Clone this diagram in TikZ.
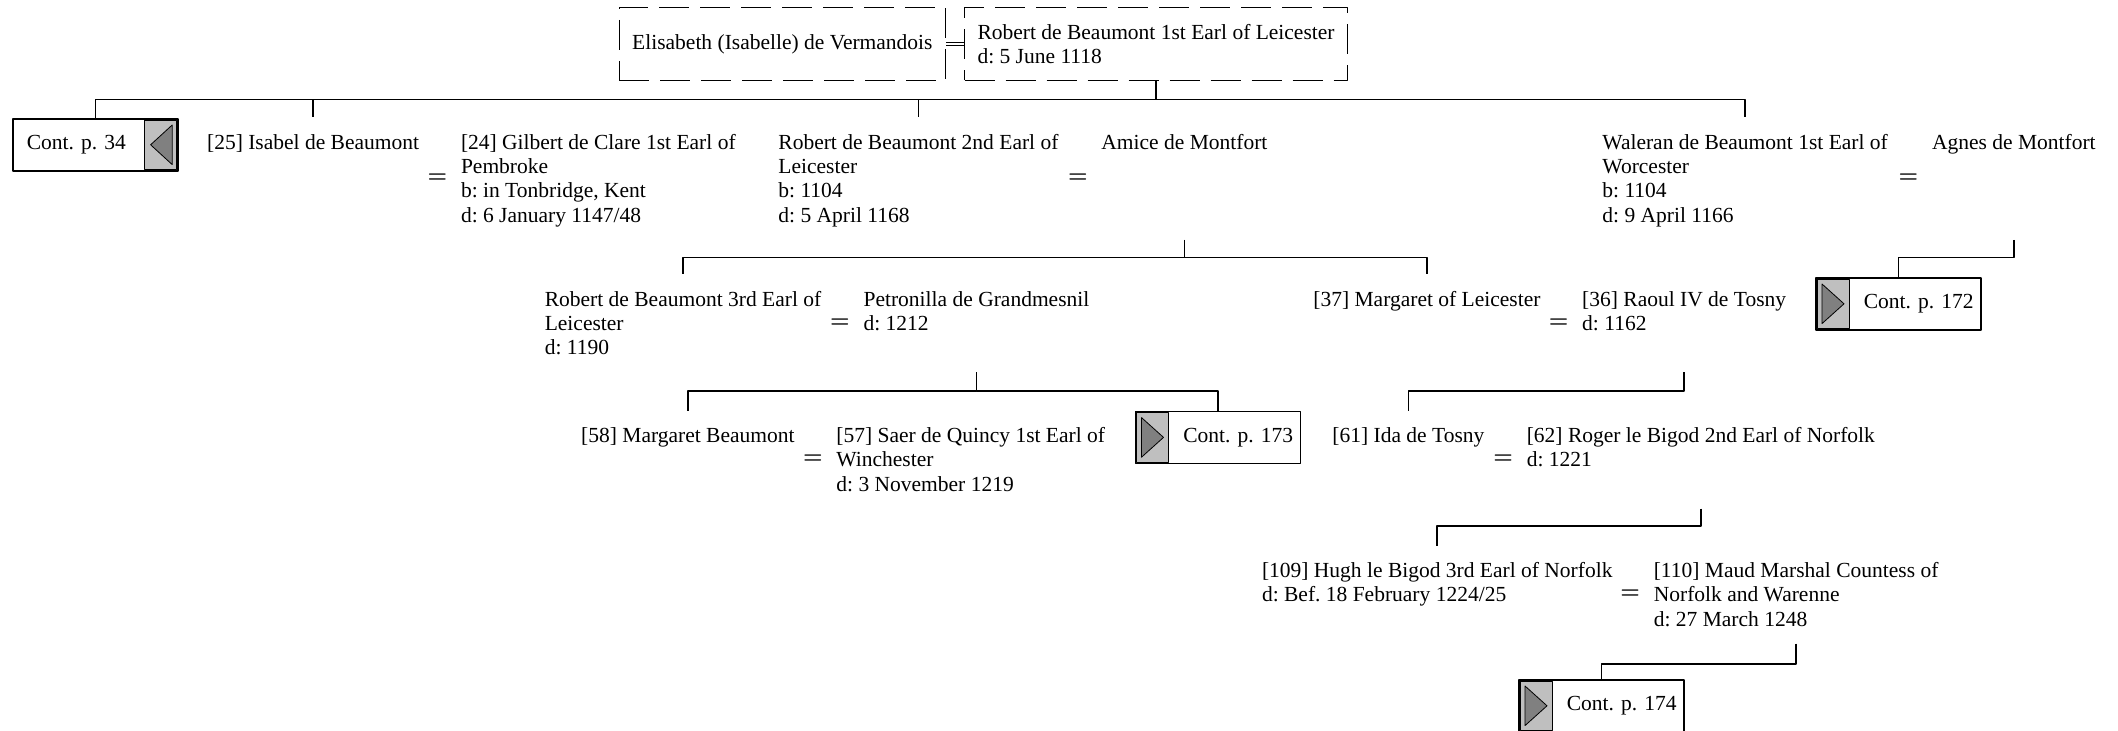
\documentclass[tikz,border=0pt]{standalone}
\usepackage{fontspec}
\setmainfont{Liberation Serif}
\usetikzlibrary{positioning}
\newcommand{\pers}[1]{\begin{tabular}[t]{@{}l@{}}#1\end{tabular}}
\begin{document}
\fontsize{10.75pt}{12.16pt}\selectfont\frenchspacing
\begin{tikzpicture}[x=0.5pt,y=-0.5pt,line join=round]
	\tikzset{person/.style={anchor=north west,inner sep=0pt,text height=15.7pt},
		lines4/.style={person,text depth=45.1pt},
		lines3/.style={person,text depth=32.9pt},
		spouse/.style={draw,dash pattern=on 15pt off 5.5pt,line width=0.5pt,inner xsep=6.5pt,minimum height=36.5pt,align=left},
		eq/.style={inner sep=0pt,font=\boldmath},
		cont/.style={anchor=north west,draw,line width=0.8pt,fill=white,text width=82.5pt,inner xsep=0pt,inner ysep=0pt,minimum height=26pt,align=left},
		link/.style={line width=0.8pt},
		grey/.style={fill=black!25,draw=black,line width=0.4pt},
		tri/.style={fill=black!50,draw=black,line width=0.4pt}}
	\useasboundingbox (0,0) rectangle (2118,731);
	% parents
	\node[spouse,anchor=north west] (robi) at (964,7) {Robert de Beaumont 1st Earl of Leicester\\d: 5 June 1118};
	\node[spouse,left=9pt of robi] (elis) {Elisabeth (Isabelle) de Vermandois};
	\draw[double,double distance=1.2pt,line width=0.4pt] (elis) -- (robi);
	% first generation
	\node[cont] (cont34) at (12,118) {\hspace*{7pt}Cont. p. 34};
	\node[lines4] (isabel) at (206.7,117.5) {\pers{[25] Isabel de Beaumont}};
	\node[lines4] (gilbert) at (460.6,117.5) {\pers{[24] Gilbert de Clare 1st Earl of\\Pembroke\\b: in Tonbridge, Kent\\d: 6 January 1147/48}};
	\node[lines4] (robertii) at (778,117.5) {\pers{Robert de Beaumont 2nd Earl of\\Leicester\\b: 1104\\d: 5 April 1168}};
	\node[lines4] (amice) at (1101,117.5) {\pers{Amice de Montfort}};
	\node[lines4] (waleran) at (1602,117.5) {\pers{Waleran de Beaumont 1st Earl of\\Worcester\\b: 1104\\d: 9 April 1166}};
	\node[lines4] (agnes) at (1931.6,117.5) {\pers{Agnes de Montfort}};
	\node[eq,left=6.5pt of gilbert] (eqa) {$=$};
	\node[eq,left=6.5pt of amice] (eqb) {$=$};
	\node[eq,left=6.5pt of agnes] (eqc) {$=$};
	% second generation
	\node[lines3] (robertiii) at (544.4,274.5) {\pers{Robert de Beaumont 3rd Earl of\\Leicester\\d: 1190}};
	\node[lines3] (petronilla) at (863.2,274.5) {\pers{Petronilla de Grandmesnil\\d: 1212}};
	\node[lines3] (margaret) at (1313,274.5) {\pers{[37] Margaret of Leicester}};
	\node[lines3] (raoul) at (1581.8,274.5) {\pers{[36] Raoul IV de Tosny\\d: 1162}};
	\node[cont] (cont172) at (1815,277) {\hspace*{24pt}Cont. p. 172};
	\node[eq,left=6.5pt of petronilla] (eqd) {$=$};
	\node[eq,left=6.5pt of raoul] (eqe) {$=$};
	% third generation
	\node[lines3] (margaretb) at (580.8,410.6) {\pers{[58] Margaret Beaumont}};
	\node[lines3] (saer) at (836,410.6) {\pers{[57] Saer de Quincy 1st Earl of\\Winchester\\d: 3 November 1219}};
	\node[cont] (cont173) at (1134.5,410.6) {\hspace*{24pt}Cont. p. 173};
	\node[lines3] (ida) at (1332,410.6) {\pers{[61] Ida de Tosny}};
	\node[lines3] (roger) at (1526.4,410.6) {\pers{[62] Roger le Bigod 2nd Earl of Norfolk\\d: 1221}};
	\node[eq,left=6.5pt of saer] (eqf) {$=$};
	\node[eq,left=6.5pt of roger] (eqg) {$=$};
	% fourth generation
	\node[lines3] (hugh) at (1261.6,545.7) {\pers{[109] Hugh le Bigod 3rd Earl of Norfolk\\d: Bef. 18 February 1224/25}};
	\node[lines3] (maud) at (1653.4,545.7) {\pers{[110] Maud Marshal Countess of\\Norfolk and Warenne\\d: 27 March 1248}};
	\node[eq,left=6.5pt of maud] (eqh) {$=$};
	\node[cont] (cont174) at (1518,679) {\hspace*{24pt}Cont. p. 174};
	% descent lines
	\foreach \c in {cont34,isabel,robertii,waleran}
	\draw[link] (robi.south) -- ++(0,-9.3pt) -| (\c.north);
	\foreach \c in {robertiii,margaret}
	\draw[link] (amice.south) -- ++(0,-8.9pt) -| (\c.north);
	\draw[link] (agnes.south) -- ++(0,-8.9pt) -| (cont172.north);
	\foreach \c in {margaretb,cont173}
	\draw[link] (petronilla.south) -- ++(0,-9.4pt) -| (\c.north);
	\draw[link] (raoul.south) -- ++(0,-9.4pt) -| (ida.north);
	\draw[link] (roger.south) -- ++(0,-8.8pt) -| (hugh.north);
	\draw[link] (maud.south) -- ++(0,-10pt) -| (cont174.north);
	% grey tabs of the continuation boxes
	\filldraw[grey] ([shift={(-1pt,-1pt)}]cont34.north east) rectangle ([shift={(-17pt,1pt)}]cont34.south east);
	\filldraw[tri] ([shift={(-3.2pt,-3.5pt)}]cont34.north east) -- ([xshift=-14pt]cont34.east) -- ([shift={(-3.2pt,3.5pt)}]cont34.south east) -- cycle;
	\foreach \c in {cont172,cont173,cont174}{
		\filldraw[grey] ([shift={(1pt,-1pt)}]\c.north west) rectangle ([shift={(17pt,1pt)}]\c.south west);
		\filldraw[tri] ([shift={(3.5pt,-3.5pt)}]\c.north west) -- ([xshift=14.5pt]\c.west) -- ([shift={(3.5pt,3.5pt)}]\c.south west) -- cycle;
	}
\end{tikzpicture}
\end{document}
